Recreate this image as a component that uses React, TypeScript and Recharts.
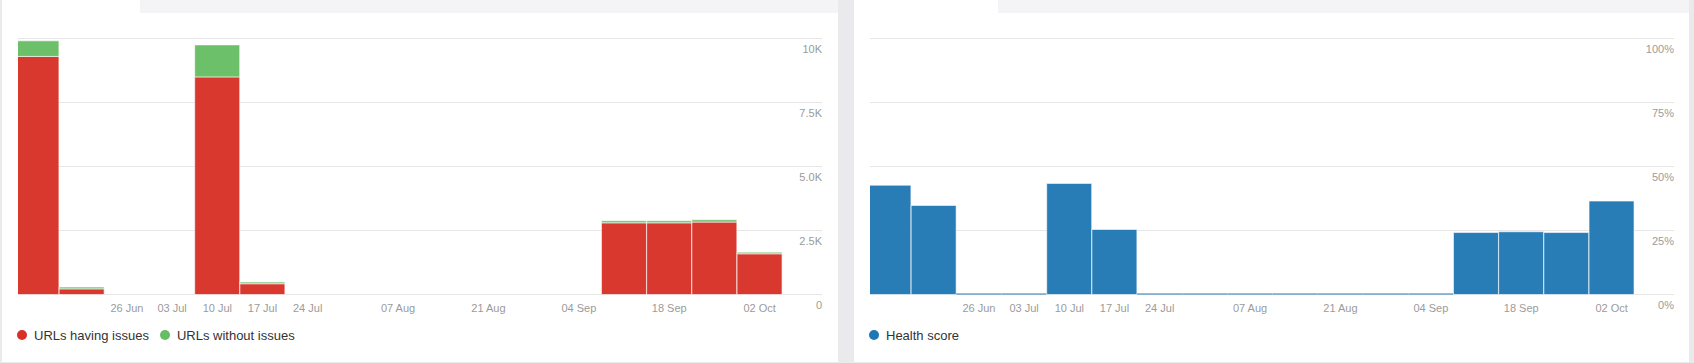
import React from "react";
import { BarChart, Bar, XAxis, YAxis, CartesianGrid, Legend, Cell } from "recharts";

const FONT = '"Liberation Sans", Arial, sans-serif';

// one bar per week
const weeks = [
  "12 Jun", "19 Jun", "26 Jun", "03 Jul", "10 Jul", "17 Jul", "24 Jul", "31 Jul", "07 Aug",
  "14 Aug", "21 Aug", "28 Aug", "04 Sep", "11 Sep", "18 Sep", "25 Sep", "02 Oct",
];
const urlsHavingIssues = [9300, 220, null, null, 8500, 420, null, null, null, null, null, null, null, 2800, 2800, 2830, 1590];
const urlsWithoutIssues = [610, 70, null, null, 1250, 65, null, null, null, null, null, null, null, 80, 80, 90, 65];
const healthScore = [42.7, 34.8, 0, 0, 43.4, 25.4, 0, 0, 0, 0, 0, 0, 0, 24.2, 24.5, 24.2, 36.5];

// weeks that get a label on the x axis
const labelledWeeks = [2, 3, 4, 5, 6, 8, 10, 12, 14, 16];
const weekDomain = [-0.41, 17.38];

const urlTicks = [0, 2500, 5000, 7500, 10000];
const urlTickLabels = ["0", "2.5K", "5.0K", "7.5K", "10K"];
const healthTicks = [0, 25, 50, 75, 100];
const healthTickLabels = ["0%", "25%", "50%", "75%", "100%"];

const urlData = weeks.map((w, i) => ({
  week: i,
  having: urlsHavingIssues[i],
  without: urlsWithoutIssues[i],
}));
const healthData = weeks.map((w, i) => ({ week: i, health: healthScore[i] }));

const TICK_COLOR = "#9b9b9b";

function WeekTick(props: any) {
  const { x, y, payload } = props;
  return (
    <text x={x} y={y + 17} textAnchor="middle" fill={TICK_COLOR} fontSize={11} fontFamily={FONT}>
      {weeks[payload.value]}
    </text>
  );
}

function valueTick(ticks: number[], labels: string[]) {
  return (props: any) => (
    <text x={props.x} y={props.y + 14} textAnchor="end" fill={TICK_COLOR} fontSize={11} fontFamily={FONT}>
      {labels[ticks.indexOf(props.payload.value)]}
    </text>
  );
}

function LegendContent({ payload }: any) {
  return (
    <div style={{ display: "flex", alignItems: "center", fontFamily: FONT, fontSize: 13, color: "#333", whiteSpace: "nowrap" }}>
      {(payload || []).map((p: any) => (
        <span key={p.value} style={{ display: "flex", alignItems: "center", height: 14, marginRight: 11 }}>
          <span style={{ width: 10, height: 10, borderRadius: 5, background: p.color, marginRight: 7 }} />
          {p.value}
        </span>
      ))}
    </div>
  );
}

// y axis is 1px wide, so the right margin is one less than the gap
const chartMargin = { top: 38.5, right: 15, bottom: 47.5, left: 16 };

function UrlChart() {
  return (
    <BarChart width={836} height={362} data={urlData} margin={chartMargin} barCategoryGap={0}>
      <CartesianGrid vertical={false} stroke="#e6e6e6" />
      <XAxis
        type="number"
        dataKey="week"
        domain={weekDomain}
        allowDataOverflow
        ticks={labelledWeeks}
        interval={0}
        height={20}
        axisLine={false}
        tickLine={false}
        tickSize={0}
        tickMargin={0}
        tick={WeekTick}
      />
      <YAxis
        orientation="right"
        domain={[0, 10000]}
        ticks={urlTicks}
        interval={0}
        width={1}
        axisLine={false}
        tickLine={false}
        tickSize={0}
        tickMargin={0}
        tick={valueTick(urlTicks, urlTickLabels)}
      />
      <Legend
        layout="horizontal"
        verticalAlign="middle"
        align="center"
        wrapperStyle={{ left: 15, top: 328, width: "auto" }}
        content={LegendContent}
      />
      <Bar dataKey="having" name="URLs having issues" stackId="u" fill="#d73027" fillOpacity={0.96}
        stroke="#ffffff" strokeOpacity={0.6} strokeWidth={1} isAnimationActive={false} />
      <Bar dataKey="without" name="URLs without issues" stackId="u" fill="#66bd63" fillOpacity={0.96}
        stroke="#ffffff" strokeOpacity={0.6} strokeWidth={1} isAnimationActive={false} />
    </BarChart>
  );
}

function HealthChart() {
  return (
    <BarChart width={835} height={362} data={healthData} margin={{ ...chartMargin, right: 14 }} barCategoryGap={0}>
      <CartesianGrid vertical={false} stroke="#e6e6e6" />
      <XAxis
        type="number"
        dataKey="week"
        domain={weekDomain}
        allowDataOverflow
        ticks={labelledWeeks}
        interval={0}
        height={20}
        axisLine={false}
        tickLine={false}
        tickSize={0}
        tickMargin={0}
        tick={WeekTick}
      />
      <YAxis
        orientation="right"
        domain={[0, 100]}
        ticks={healthTicks}
        interval={0}
        width={1}
        axisLine={false}
        tickLine={false}
        tickSize={0}
        tickMargin={0}
        tick={valueTick(healthTicks, healthTickLabels)}
      />
      <Legend
        layout="horizontal"
        verticalAlign="middle"
        align="center"
        wrapperStyle={{ left: 15, top: 328, width: "auto" }}
        content={LegendContent}
      />
      <Bar dataKey="health" name="Health score" fill="#1f78b4" fillOpacity={0.96} minPointSize={1}
        isAnimationActive={false}>
        {healthData.map((d) => (
          <Cell key={d.week} stroke={d.health ? "#ffffff" : "none"} strokeOpacity={0.6} strokeWidth={1} />
        ))}
      </Bar>
    </BarChart>
  );
}

export default function App() {
  return (
    <div style={{ position: "absolute", left: 0, top: 0, width: 1694, height: 363, background: "#eaeaec", overflow: "hidden", fontFamily: FONT }}>
      <div style={{ position: "absolute", left: 2, top: 0, width: 836, height: 362, background: "#fff" }}>
        <div style={{ position: "absolute", left: 138, top: 0, width: 698, height: 13, background: "#f4f4f6" }} />
        <div style={{ position: "absolute", left: 0, top: 0 }}>
          <UrlChart />
        </div>
      </div>
      <div style={{ position: "absolute", left: 854, top: 0, width: 835, height: 362, background: "#fff" }}>
        <div style={{ position: "absolute", left: 144, top: 0, width: 691, height: 13, background: "#f4f4f6" }} />
        <div style={{ position: "absolute", left: 0, top: 0 }}>
          <HealthChart />
        </div>
      </div>
    </div>
  );
}
